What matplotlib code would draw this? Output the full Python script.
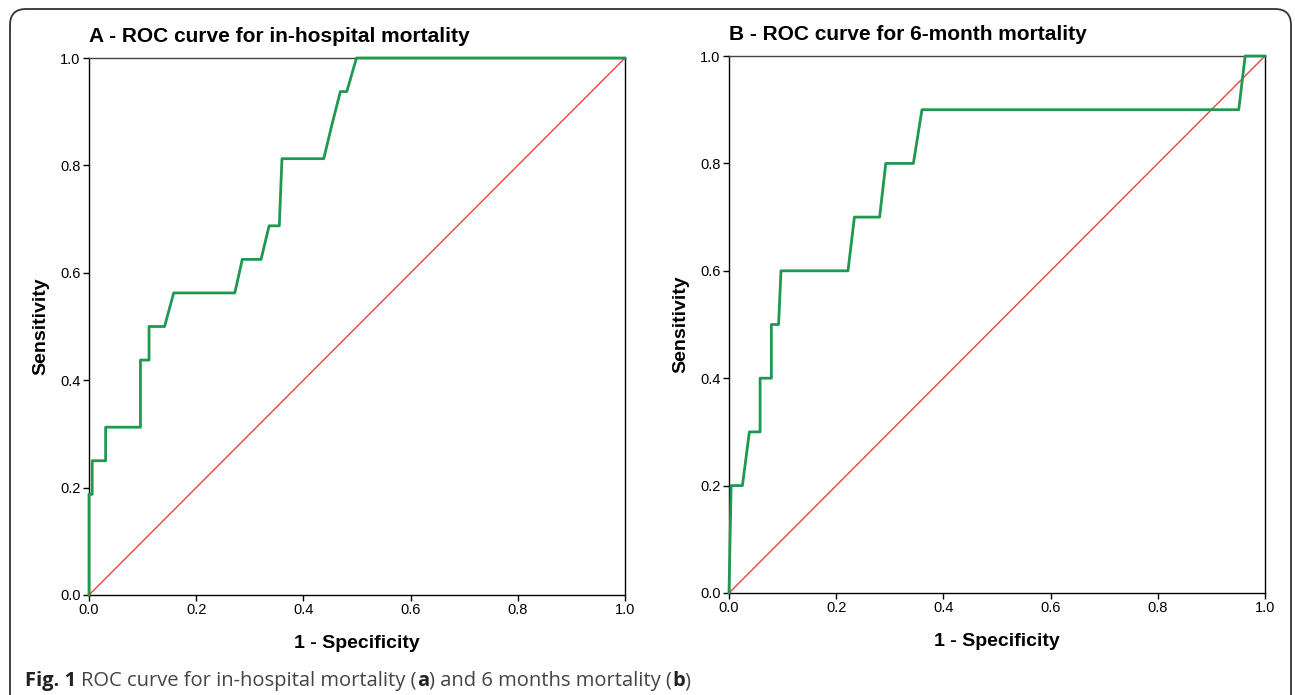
import matplotlib
import numpy as np

matplotlib.use("Agg")

from matplotlib import pyplot as plt  # noqa: E402
from matplotlib.patches import FancyBboxPatch  # noqa: E402
from matplotlib.transforms import IdentityTransform  # noqa: E402

# ROC curve A - in-hospital mortality (1 - specificity, sensitivity)
fpr_a = [0.0, 0.0, 0.006, 0.006, 0.031, 0.031, 0.096, 0.096, 0.112, 0.112,
         0.141, 0.158, 0.272, 0.286, 0.321, 0.336, 0.355, 0.360, 0.438,
         0.453, 0.469, 0.481, 0.499, 1.0]
tpr_a = [0.0, 0.1875, 0.1875, 0.25, 0.25, 0.3125, 0.3125, 0.4375, 0.4375,
         0.5, 0.5, 0.5625, 0.5625, 0.625, 0.625, 0.6875, 0.6875, 0.8125,
         0.8125, 0.875, 0.9375, 0.9375, 1.0, 1.0]

# ROC curve B - 6-month mortality
fpr_b = [0.0, 0.004, 0.025, 0.038, 0.058, 0.058, 0.079, 0.079, 0.0925,
         0.097, 0.222, 0.234, 0.281, 0.2925, 0.344, 0.360, 0.951, 0.963, 1.0]
tpr_b = [0.0, 0.2, 0.2, 0.3, 0.3, 0.4, 0.4, 0.5, 0.5, 0.6, 0.6, 0.7, 0.7,
         0.8, 0.8, 0.9, 0.9, 1.0, 1.0]

titles = ["A - ROC curve for in-hospital mortality",
          "B - ROC curve for 6-month mortality"]
ticks = [0.0, 0.2, 0.4, 0.6, 0.8, 1.0]

plt.rcParams["font.family"] = ["Liberation Sans", "DejaVu Sans"]

fig = plt.figure(figsize=(12.95, 6.95), dpi=100)
ax_a = fig.add_axes([89 / 1295, 1 - 595 / 695, 536 / 1295, 537 / 695])
ax_b = fig.add_axes([729 / 1295, 1 - 593 / 695, 536 / 1295, 537 / 695])

for ax, fx, ty, title in [(ax_a, fpr_a, tpr_a, titles[0]),
                          (ax_b, fpr_b, tpr_b, titles[1])]:
    ax.plot([0, 1], [0, 1], color="#e8453c", lw=1.0, zorder=2)
    ax.plot(fx, ty, color="#1f9850", lw=2.0, zorder=3, clip_on=False)
    ax.set_xlim(0, 1)
    ax.set_ylim(0, 1)
    ax.set_xticks(ticks)
    ax.set_yticks(ticks)
    ax.set_xticklabels([f"{t:.1f}" for t in ticks])
    ax.set_yticklabels([f"{t:.1f}" for t in ticks])
    ax.tick_params(direction="out", length=4.5, width=1, pad=1.5,
                   labelsize=10.5, colors="black")
    for s in ax.spines.values():
        s.set_linewidth(1)
        s.set_color("black")
    ax.spines["top"].set_color("#444444")
    ax.set_xlabel("1 - Specificity", fontsize=14, fontweight="bold",
                  labelpad=13)
    ax.set_ylabel("Sensitivity", fontsize=14, fontweight="bold",
                  labelpad=8)
    ax.annotate(title, xy=(0, 1), xycoords="axes fraction",
                xytext=(0, 11.5), textcoords="offset points",
                ha="left", va="baseline", fontsize=15, fontweight="bold")

# outer rounded frame (open at the bottom)
frame = FancyBboxPatch((10, -30), 1281, 695 - 9 + 30,
                       boxstyle="round,pad=0,rounding_size=16",
                       transform=IdentityTransform(), fill=False,
                       ec="#333333", lw=1.3)
fig.add_artist(frame)

# caption, built piece by piece so bold and regular runs join up
parts = [("Fig. 1 ", "bold", "#222222"),
         ("ROC curve for in-hospital mortality (", "normal", "#444444"),
         ("a", "bold", "#222222"),
         (") and 6 months mortality (", "normal", "#444444"),
         ("b", "bold", "#222222"),
         (")", "normal", "#444444")]
fig.canvas.draw()
r = fig.canvas.get_renderer()
x = 25
for txt, w, c in parts:
    t = fig.text(x / 1295, 1 - 686 / 695, txt, fontsize=14.5, fontweight=w,
                 family=["Open Sans", "DejaVu Sans"], color=c,
                 va="baseline")
    x = t.get_window_extent(renderer=r).x1

fig.savefig("out.png", dpi=100)
